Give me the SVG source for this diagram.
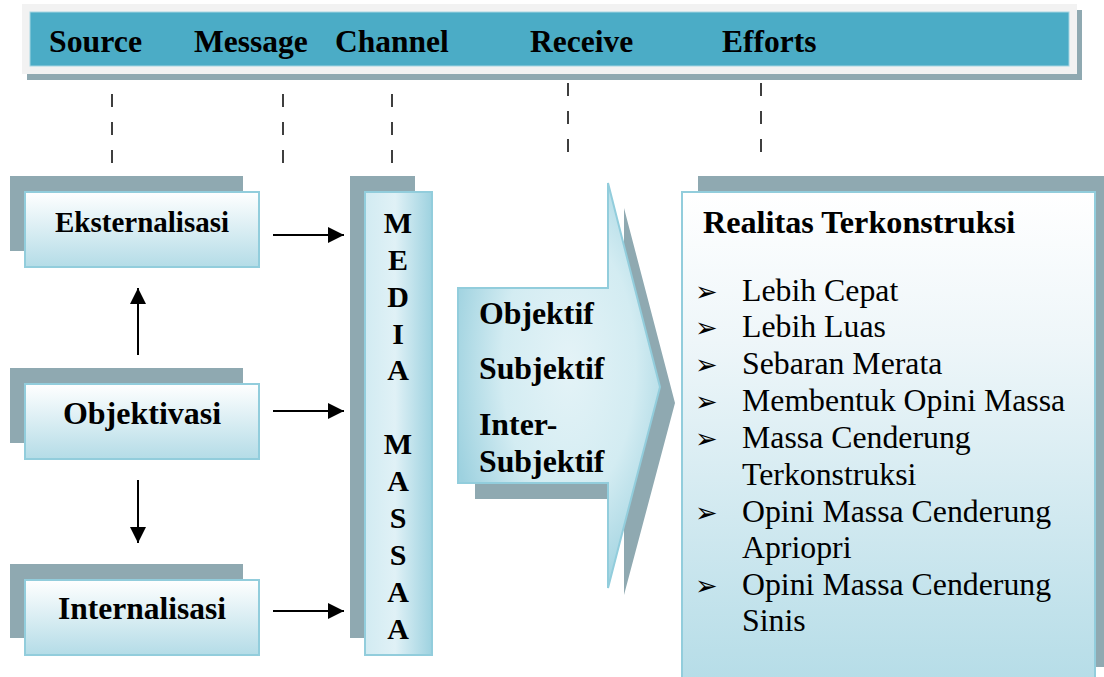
<svg xmlns="http://www.w3.org/2000/svg" width="1104" height="677" viewBox="0 0 1104 677">
<defs>
<linearGradient id="gBox" x1="0" y1="0" x2="0" y2="1">
<stop offset="0" stop-color="#FFFFFF"/>
<stop offset="1" stop-color="#B4DCE7"/>
</linearGradient>
<linearGradient id="gBig" x1="0" y1="0" x2="0" y2="1">
<stop offset="0" stop-color="#FFFFFF"/>
<stop offset="0.3" stop-color="#EEF6F9"/>
<stop offset="1" stop-color="#B4DCE7"/>
</linearGradient>
<linearGradient id="gCol" x1="0" y1="0" x2="1" y2="0">
<stop offset="0" stop-color="#D2EBF2"/>
<stop offset="0.45" stop-color="#E0F1F6"/>
<stop offset="1" stop-color="#9ED2E0"/>
</linearGradient>
<radialGradient id="gArrow" cx="0.55" cy="0.45" r="0.6">
<stop offset="0" stop-color="#E4F3F7"/>
<stop offset="0.55" stop-color="#D3ECF2"/>
<stop offset="1" stop-color="#9DD1DF"/>
</radialGradient>
<marker id="ah" viewBox="0 0 16 16" refX="16" refY="8" markerWidth="16" markerHeight="16" markerUnits="userSpaceOnUse" orient="auto">
<path d="M0,0 L16,8 L0,16 Z" fill="#000"/>
</marker>
</defs>
<style>
.shadow{fill:#8FA9B1;}
.box{fill:url(#gBox);stroke:#92CDDC;stroke-width:2;}
.b{font-weight:bold;fill:#000;}
.r{fill:#000;}
.bul{fill:#000;font-size:27px;}
.dash{stroke:#000;stroke-width:1.5;stroke-dasharray:13 15;fill:none;}
.conn{stroke:#000;stroke-width:2;fill:none;marker-end:url(#ah);}
</style>

<g font-family="Liberation Serif, Times New Roman, serif">
<g id="header">
<rect x="27" y="10" width="1055" height="70" class="shadow"/>
<rect x="22" y="4" width="1055" height="70" fill="#F2F2F2"/>
<rect x="30" y="12" width="1039" height="54" fill="#4BACC6" stroke="#A5D5E2" stroke-width="1"/>
<text class="b" font-size="31.8" x="49" y="52">Source</text>
<text class="b" font-size="31.5" x="194" y="52">Message</text>
<text class="b" font-size="31.5" x="335" y="52">Channel</text>
<text class="b" font-size="31.5" x="530" y="52">Receive</text>
<text class="b" font-size="31.5" x="722" y="52">Efforts</text>
</g>

<g id="eksternalisasi">
<rect x="10" y="176" width="233" height="75" class="shadow"/>
<rect x="25" y="192" width="234" height="75" class="box"/>
<text class="b" font-size="29" x="142" y="232" text-anchor="middle">Eksternalisasi</text>
</g>

<g id="objektivasi">
<rect x="10" y="368" width="233" height="75" class="shadow"/>
<rect x="25" y="384" width="234" height="75" class="box"/>
<text class="b" font-size="32" x="142" y="424" text-anchor="middle">Objektivasi</text>
</g>

<g id="internalisasi">
<rect x="10" y="564" width="233" height="74" class="shadow"/>
<rect x="25" y="580" width="234" height="75" class="box"/>
<text class="b" font-size="31.5" x="142" y="619" text-anchor="middle">Internalisasi</text>
</g>

<g id="media-massa">
<rect x="350" y="176" width="65" height="462" class="shadow"/>
<rect x="365" y="192" width="67" height="463" fill="url(#gCol)" stroke="#92CDDC" stroke-width="2"/>
<g class="b" font-size="30" text-anchor="middle">
<text x="398" y="233">M</text>
<text x="398" y="270">E</text>
<text x="398" y="307">D</text>
<text x="398" y="344">I</text>
<text x="398" y="380">A</text>
<text x="398" y="454">M</text>
<text x="398" y="491">A</text>
<text x="398" y="528">S</text>
<text x="398" y="565">S</text>
<text x="398" y="602">A</text>
<text x="398" y="639">A</text>
</g>
</g>

<g id="big-arrow">
<polygon points="475,304 624,304 624,208 675,403 624,595 624,499 475,499" class="shadow"/>
<polygon points="458,288 608,288 608,183 660,387 608,588 608,483 458,483" fill="url(#gArrow)" stroke="#92CDDC" stroke-width="2"/>
<text class="b" font-size="31.8" x="479" y="324">Objektif</text>
<text class="b" font-size="31.8" x="479" y="379">Subjektif</text>
<text class="b" font-size="31.8" x="479" y="435">Inter-</text>
<text class="b" font-size="31.8" x="479" y="472">Subjektif</text>
</g>

<g id="realitas">
<rect x="698" y="176" width="420" height="491" class="shadow"/>
<rect x="682" y="192" width="413" height="500" fill="url(#gBig)" stroke="#92CDDC" stroke-width="2"/>
<text class="b" font-size="32.2" x="703" y="233">Realitas Terkonstruksi</text>
<g class="bul" font-family="DejaVu Sans, sans-serif">
<text x="695" y="301">➢</text>
<text x="695" y="337">➢</text>
<text x="695" y="374">➢</text>
<text x="695" y="411">➢</text>
<text x="695" y="448">➢</text>
<text x="695" y="522">➢</text>
<text x="695" y="595">➢</text>
</g>
<g class="r" font-size="31.8">
<text x="742" y="301">Lebih Cepat</text>
<text x="742" y="337">Lebih Luas</text>
<text x="742" y="374">Sebaran Merata</text>
<text x="742" y="411">Membentuk Opini Massa</text>
<text x="742" y="448">Massa Cenderung</text>
<text x="742" y="485">Terkonstruksi</text>
<text x="742" y="522">Opini Massa Cenderung</text>
<text x="742" y="558">Apriopri</text>
<text x="742" y="595">Opini Massa Cenderung</text>
<text x="742" y="631">Sinis</text>
</g>
</g>
</g>

<g id="connectors">
<line x1="112" y1="94" x2="112" y2="164" class="dash"/>
<line x1="283" y1="94" x2="283" y2="164" class="dash"/>
<line x1="392" y1="94" x2="392" y2="164" class="dash"/>
<line x1="568" y1="83" x2="568" y2="153" class="dash"/>
<line x1="761" y1="83" x2="761" y2="153" class="dash"/>
<line x1="273" y1="235" x2="344" y2="235" class="conn"/>
<line x1="273" y1="411" x2="344" y2="411" class="conn"/>
<line x1="273" y1="611" x2="344" y2="611" class="conn"/>
<line x1="138" y1="355" x2="138" y2="288" class="conn"/>
<line x1="138" y1="480" x2="138" y2="543" class="conn"/>
</g>
</svg>
